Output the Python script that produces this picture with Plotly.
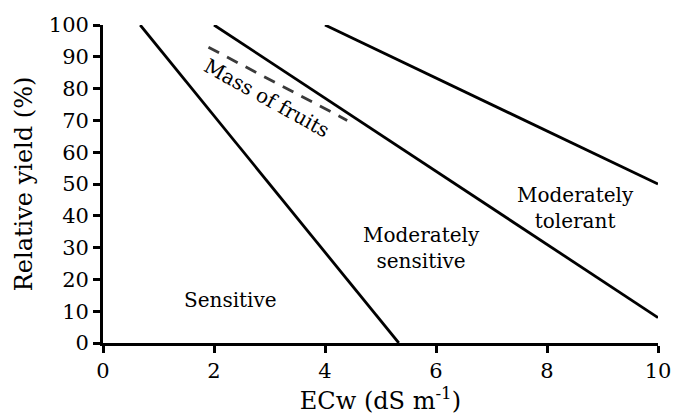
import plotly.graph_objects as go

# Data
sens_x = [0.67, 5.33]
sens_y = [100, 0]
modsens_x = [2.0, 10.0]
modsens_y = [100, 8]
modtol_x = [4.0, 10.0]
modtol_y = [100, 50]
fruit_x = [1.9, 4.4]
fruit_y = [93, 70]

x_ticks = [0, 2, 4, 6, 8, 10]
y_ticks = [0, 10, 20, 30, 40, 50, 60, 70, 80, 90, 100]

FONT = "DejaVu Serif, Liberation Serif, Noto Serif, serif"

fig = go.Figure()
for xs, ys in [(sens_x, sens_y), (modsens_x, modsens_y), (modtol_x, modtol_y)]:
    fig.add_trace(go.Scatter(x=xs, y=ys, mode="lines",
                             line=dict(color="black", width=2.8),
                             showlegend=False, hoverinfo="skip"))
fig.add_trace(go.Scatter(x=fruit_x, y=fruit_y, mode="lines",
                         line=dict(color="#3a3a3a", width=2.8, dash="12px,9px"),
                         showlegend=False, hoverinfo="skip"))

annots = [
    dict(x=2.29, y=13.5, text="Sensitive", textangle=0),
    dict(x=5.73, y=30, text="Moderately<br>sensitive", textangle=0),
    dict(x=8.52, y=42.5, text="Moderately<br>tolerant", textangle=0),
    dict(x=2.95, y=77, text="Mass of fruits", textangle=29),
]
for a in annots:
    fig.add_annotation(x=a["x"], y=a["y"], text=a["text"], showarrow=False,
                       textangle=a["textangle"],
                       font=dict(family=FONT, size=20, color="black"))

fig.update_layout(
    width=677, height=420,
    margin=dict(l=103, r=19, t=25, b=77),
    paper_bgcolor="white", plot_bgcolor="white",
    font=dict(family=FONT, size=20, color="black"),
)
fig.update_xaxes(range=[0, 10], tickvals=x_ticks, ticktext=[str(v) for v in x_ticks],
                 showgrid=False, zeroline=False, showline=True, linecolor="black",
                 linewidth=2.8, ticks="outside", ticklen=7, tickwidth=2.8, tickcolor="black",
                 title=dict(text="ECw (dS m<sup>-1</sup>)", standoff=10),
                 tickfont=dict(family=FONT, size=21), automargin=False)
fig.update_yaxes(range=[0, 100], tickvals=y_ticks, ticktext=[str(v) for v in y_ticks],
                 showgrid=False, zeroline=False, showline=True, linecolor="black",
                 linewidth=2.8, ticks="outside", ticklen=7, tickwidth=2.8, tickcolor="black",
                 title=dict(text="Relative yield (%)", standoff=10),
                 tickfont=dict(family=FONT, size=21), automargin=False)

fig.write_html("out.html", post_script="document.body.style.margin='0';",
               config={"displayModeBar": False})
